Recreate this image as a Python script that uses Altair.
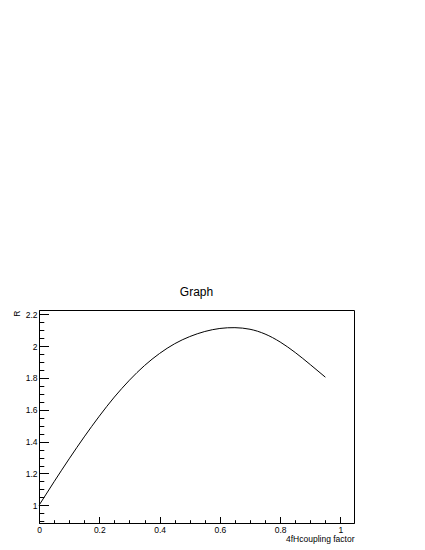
import altair as alt
import pandas as pd

# data
x_vals = [0.0, 0.05, 0.10, 0.15, 0.20, 0.25, 0.30, 0.35, 0.40, 0.45,
          0.50, 0.55, 0.60, 0.65, 0.70, 0.75, 0.80, 0.85, 0.90, 0.95]
r_vals = [1.000, 1.148, 1.292, 1.430, 1.560, 1.680, 1.786, 1.878, 1.954, 2.015,
          2.060, 2.092, 2.111, 2.116, 2.106, 2.076, 2.026, 1.960, 1.884, 1.805]

x_major = [0.0, 0.2, 0.4, 0.6, 0.8, 1.0]
x_minor = [0.05, 0.1, 0.15, 0.25, 0.3, 0.35, 0.45, 0.5, 0.55, 0.65, 0.7, 0.75,
           0.85, 0.9, 0.95, 1.05]
y_major = [1.0, 1.2, 1.4, 1.6, 1.8, 2.0, 2.2]
y_minor = [0.9, 0.95, 1.05, 1.1, 1.15, 1.25, 1.3, 1.35, 1.45, 1.5, 1.55, 1.65,
           1.7, 1.75, 1.85, 1.9, 1.95, 2.05, 2.1, 2.15]

W, H = 315, 213
FONT = "Liberation Sans"

df = pd.DataFrame({"x": x_vals, "r": r_vals})
xs = alt.Scale(domain=[0, 1.045], nice=False, zero=False)
ys = alt.Scale(domain=[0.889, 2.227], nice=False, zero=False)

line = alt.Chart(df).mark_line(color="black", strokeWidth=1, interpolate="natural").encode(
    x=alt.X("x:Q", scale=xs, axis=alt.Axis(
        values=x_major, format="~g", ticks=False, grid=False,
        domainColor="black", labelColor="black", labelFont=FONT, labelFontSize=8.5,
        labelPadding=2, labelFlush=False,
        title="4fHcoupling factor", titleFont=FONT, titleFontSize=8.5,
        titleFontWeight="normal", titleColor="black",
        titleX=W, titleY=15.3, titleAlign="right", titleBaseline="middle")),
    y=alt.Y("r:Q", scale=ys, axis=alt.Axis(
        values=y_major, format="~g", ticks=False, grid=False,
        domainColor="black", labelColor="black", labelFont=FONT, labelFontSize=8.5,
        labelPadding=2, labelFlush=False,
        title="R", titleFont=FONT, titleFontSize=8.5, titleFontWeight="normal",
        titleColor="black", titleAngle=270, titleX=-23, titleY=0,
        titleAlign="right", titleBaseline="middle")),
)


def tick_layer(xv, yv, xlen, ylen):
    return alt.Chart(df).mark_line(opacity=0).encode(
        x=alt.X("x:Q", scale=xs, axis=alt.Axis(
            orient="top", offset=-H, values=xv, tickSize=xlen, tickColor="black",
            labels=False, domain=False, grid=False, title="")),
        y=alt.Y("r:Q", scale=ys, axis=alt.Axis(
            orient="right", offset=-W, values=yv, tickSize=ylen, tickColor="black",
            labels=False, domain=False, grid=False, title="")),
    )


major = tick_layer(x_major, y_major, 6.5, 9.5)
minor = tick_layer(x_minor, y_minor, 3.3, 4.8)

chart = alt.layer(line, major, minor).resolve_axis(
    x="independent", y="independent"
).properties(
    width=W, height=H,
    autosize="none",
    padding={"left": 31, "top": 302, "right": 60, "bottom": 30},
    title=alt.TitleParams("Graph", font=FONT, fontSize=12, fontWeight="normal",
                          color="black", anchor="middle", baseline="alphabetic",
                          offset=2),
).configure_view(stroke="black", strokeWidth=1)

chart.save("out.html", embed_options={"renderer": "svg", "actions": False})
